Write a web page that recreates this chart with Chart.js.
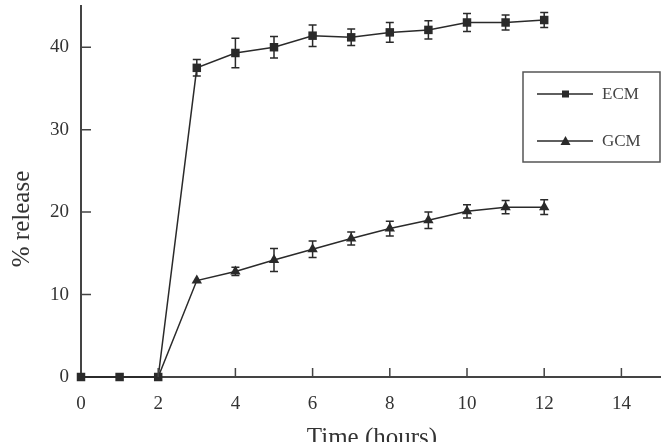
<!DOCTYPE html>
<html>
<head>
<meta charset="utf-8">
<script src="https://cdn.jsdelivr.net/npm/chart.js@4/dist/chart.umd.min.js"></script>
<style>
  body { margin: 0; background: #fff; }
  #wrap { width: 668px; height: 442px; }
</style>
</head>
<body>
<div id="wrap"><canvas id="releaseChart" width="668" height="442"></canvas></div>
<script>
// Release data (hours vs % release)
const times   = [0, 1, 2, 3, 4, 5, 6, 7, 8, 9, 10, 11, 12];
const ecm     = [0, 0, 0, 37.5, 39.3, 40.0, 41.4, 41.2, 41.8, 42.1, 43.0, 43.0, 43.3];
const ecmErr  = [0, 0, 0, 1.0, 1.8, 1.3, 1.3, 1.0, 1.2, 1.1, 1.1, 0.9, 0.9];
const gcm     = [0, 0, 0, 11.7, 12.8, 14.2, 15.5, 16.8, 18.0, 19.0, 20.1, 20.6, 20.6];
const gcmErr  = [0, 0, 0, 0, 0.5, 1.4, 1.0, 0.8, 0.9, 1.0, 0.8, 0.8, 0.9];
const xTicks  = [0, 2, 4, 6, 8, 10, 12, 14];
const yTicks  = [0, 10, 20, 30, 40];
const seriesNames = ['ECM', 'GCM'];

const INK = '#2a2a2a';
const SERIF = '"Liberation Serif", "DejaVu Serif", serif';

function toPoints(ys) {
  return times.map((t, i) => ({ x: t, y: ys[i] }));
}

// Draws error bars, inward tick marks, axis titles and the boxed legend.
const extras = {
  id: 'extras',
  afterDatasetsDraw(chart) {
    const ctx = chart.ctx;
    const xs = chart.scales.x, ys = chart.scales.y;
    const errs = [ecmErr, gcmErr];
    ctx.save();
    ctx.strokeStyle = INK;
    ctx.lineWidth = 1.5;
    chart.data.datasets.forEach((ds, di) => {
      ds.data.forEach((p, i) => {
        const e = errs[di][i];
        if (!e) return;
        const px = xs.getPixelForValue(p.x);
        const top = ys.getPixelForValue(p.y + e);
        const bot = ys.getPixelForValue(p.y - e);
        ctx.beginPath();
        ctx.moveTo(px, top); ctx.lineTo(px, bot);
        ctx.moveTo(px - 4, top); ctx.lineTo(px + 4, top);
        ctx.moveTo(px - 4, bot); ctx.lineTo(px + 4, bot);
        ctx.stroke();
      });
    });
    ctx.restore();
  },
  afterDraw(chart) {
    const ctx = chart.ctx;
    const a = chart.chartArea;
    const xs = chart.scales.x, ys = chart.scales.y;
    ctx.save();
    // inward ticks
    ctx.strokeStyle = '#444';
    ctx.lineWidth = 1.5;
    ctx.beginPath();
    xTicks.forEach(v => {
      if (v === 0) return;
      const px = xs.getPixelForValue(v);
      ctx.moveTo(px, a.bottom); ctx.lineTo(px, a.bottom - 9);
    });
    yTicks.forEach(v => {
      if (v === 0) return;
      const py = ys.getPixelForValue(v);
      ctx.moveTo(a.left, py); ctx.lineTo(a.left + 10, py);
    });
    ctx.stroke();

    // axis titles
    ctx.fillStyle = '#333';
    ctx.font = '25px ' + SERIF;
    ctx.textAlign = 'center';
    ctx.textBaseline = 'middle';
    ctx.fillText('Time (hours)', 372, 438);
    ctx.translate(22, 219);
    ctx.rotate(-Math.PI / 2);
    ctx.fillText('% release', 0, 0);
    ctx.setTransform(1, 0, 0, 1, 0, 0);

    // legend box
    const bx = 523, by = 72, bw = a.right - 523, bh = 90;
    ctx.strokeStyle = '#555';
    ctx.lineWidth = 1.5;
    ctx.strokeRect(bx, by, bw, bh);
    ctx.font = '17px ' + SERIF;
    ctx.textAlign = 'left';
    const rows = [by + 22, by + 69];
    rows.forEach((ry, i) => {
      ctx.strokeStyle = INK;
      ctx.lineWidth = 1.5;
      ctx.beginPath();
      ctx.moveTo(bx + 14, ry); ctx.lineTo(bx + 70, ry);
      ctx.stroke();
      ctx.fillStyle = INK;
      if (i === 0) {
        ctx.fillRect(bx + 39, ry - 3.5, 7, 7);
      } else {
        ctx.beginPath();
        ctx.moveTo(bx + 42.5, ry - 5);
        ctx.lineTo(bx + 47.5, ry + 4);
        ctx.lineTo(bx + 37.5, ry + 4);
        ctx.closePath();
        ctx.fill();
      }
      ctx.fillStyle = '#444';
      ctx.fillText(seriesNames[i], bx + 79, ry + 1);
    });
    ctx.restore();
  }
};

new Chart(document.getElementById('releaseChart'), {
  type: 'line',
  data: {
    datasets: [
      {
        label: seriesNames[0],
        data: toPoints(ecm),
        borderColor: INK,
        backgroundColor: INK,
        borderWidth: 1.5,
        pointStyle: 'rect',
        pointRadius: 6,
        pointBorderWidth: 0,
        clip: false,
        tension: 0
      },
      {
        label: seriesNames[1],
        data: toPoints(gcm),
        borderColor: INK,
        backgroundColor: INK,
        borderWidth: 1.5,
        pointStyle: 'triangle',
        // triangles hidden where they sit under the ECM squares
        pointRadius: c => (gcm[c.dataIndex] === ecm[c.dataIndex] ? 0 : 6),
        pointBorderWidth: 0,
        clip: false,
        tension: 0
      }
    ]
  },
  options: {
    responsive: false,
    animation: false,
    events: [],
    layout: { padding: { top: 3, right: 8, left: 0, bottom: 0 } },
    plugins: {
      legend: { display: false },
      tooltip: { enabled: false }
    },
    scales: {
      x: {
        type: 'linear',
        min: 0,
        max: 15,
        afterBuildTicks: s => { s.ticks = xTicks.map(v => ({ value: v })); },
        afterFit: s => { s.height = 65; s.paddingLeft = 0; s.paddingRight = 0; },
        grid: { display: false, drawTicks: false },
        border: { display: true, color: '#444', width: 2 },
        ticks: {
          padding: 16,
          color: '#333',
          font: { family: SERIF, size: 19 },
          maxRotation: 0
        }
      },
      y: {
        min: 0,
        max: 45,
        afterBuildTicks: s => { s.ticks = yTicks.map(v => ({ value: v })); },
        afterFit: s => { s.width = 81; s.paddingTop = 0; s.paddingBottom = 0; },
        grid: { display: false, drawTicks: false },
        border: { display: true, color: '#444', width: 2 },
        ticks: {
          padding: 12,
          color: '#333',
          font: { family: SERIF, size: 19 }
        }
      }
    }
  },
  plugins: [extras]
});
</script>
</body>
</html>
